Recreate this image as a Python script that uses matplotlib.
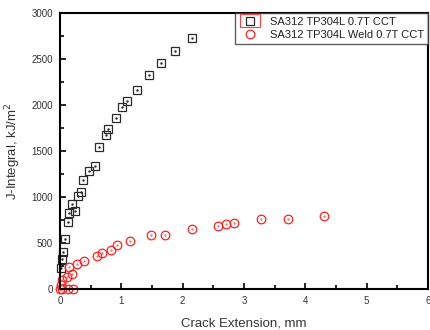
import matplotlib
matplotlib.use('Agg')
import matplotlib.pyplot as plt
from matplotlib.patches import Rectangle

plt.rcParams['font.family'] = ['Liberation Sans', 'DejaVu Sans']

# base metal, 0.7T CCT
base_da = [0.02, 0.04, 0.05, 0.09, 0.125, 0.15, 0.19, 0.25, 0.29, 0.35, 0.38,
           0.48, 0.57, 0.63, 0.75, 0.79, 0.91, 1.02, 1.09, 1.25, 1.46, 1.64,
           1.87, 2.15]
base_j = [232, 323, 405, 540, 725, 823, 920, 848, 1011, 1058, 1185,
          1286, 1337, 1540, 1674, 1742, 1855, 1982, 2047, 2163, 2329, 2460,
          2590, 2731]

# weld, 0.7T CCT
weld_da = [0.0, 0.03, 0.13, 0.22, 0.02, 0.03, 0.11, 0.2, 0.15, 0.28, 0.40,
           0.60, 0.69, 0.83, 0.93, 1.14, 1.48, 1.71, 2.15, 2.57, 2.71, 2.83,
           3.27, 3.71, 4.30]
weld_j = [0, 0, 0, 0, 40, 95, 130, 160, 236, 269, 304,
          362, 395, 424, 478, 522, 583, 590, 649, 688, 703, 714,
          758, 764, 790]

fig = plt.figure(figsize=(4.31, 3.30), dpi=100)
ax = fig.add_axes([0.139, 0.124, 0.854, 0.837])

ax.plot(base_da, base_j, ls='none', marker='s', ms=5.8, mfc='none',
        mec='#2a2a2a', mew=0.9, label='SA312 TP304L 0.7T CCT', clip_on=False)
ax.plot(base_da, base_j, ls='none', marker='.', ms=1.5, color='#2a2a2a',
        clip_on=False)
ax.plot(weld_da, weld_j, ls='none', marker='o', ms=6.2, mfc='none',
        mec='#ff2020', mew=0.9, label='SA312 TP304L Weld 0.7T CCT', clip_on=False)
ax.plot(weld_da, weld_j, ls='none', marker='.', ms=1.2, color='#ff6060',
        clip_on=False)

ax.set_xlim(0, 6)
ax.set_ylim(0, 3000)
ax.set_xticks([0, 1, 2, 3, 4, 5, 6])
ax.set_xticks([0.5, 1.5, 2.5, 3.5, 4.5, 5.5], minor=True)
ax.set_yticks([0, 500, 1000, 1500, 2000, 2500, 3000])
ax.set_yticks([250, 750, 1250, 1750, 2250, 2750], minor=True)
ax.tick_params(which='both', direction='in', labelsize=7, width=1.2,
               top=False, right=False, pad=5, labelcolor='#333333')
ax.tick_params(which='major', length=4)
ax.tick_params(which='minor', length=3)
for s in ax.spines.values():
    s.set_linewidth(1.5)

ax.set_xlabel('Crack Extension, mm', fontsize=9.5, color='#333333', labelpad=8)
ax.set_ylabel('J-Integral, kJ/m$^2$', fontsize=9.5, color='#333333', labelpad=6)

leg = ax.legend(loc='upper right', fontsize=8, frameon=True, fancybox=False,
                borderaxespad=0, borderpad=0.35, labelspacing=0.3,
                handlelength=2.0, handletextpad=0.8)
leg.get_frame().set_edgecolor('#333333')
leg.get_frame().set_linewidth(1.0)
for t in leg.get_texts():
    t.set_color('#222222')

# red selection box around the first legend symbol
fig.canvas.draw()
hb = leg.legend_handles[0].get_window_extent()
cx = (hb.x0 + hb.x1) / 2
cy = (hb.y0 + hb.y1) / 2
fig.add_artist(Rectangle((cx - 10, cy - 6.5), 20, 13, transform=None,
                         fill=False, edgecolor='#ff4040', lw=0.8, zorder=10))

fig.savefig('out.png', dpi=100)
